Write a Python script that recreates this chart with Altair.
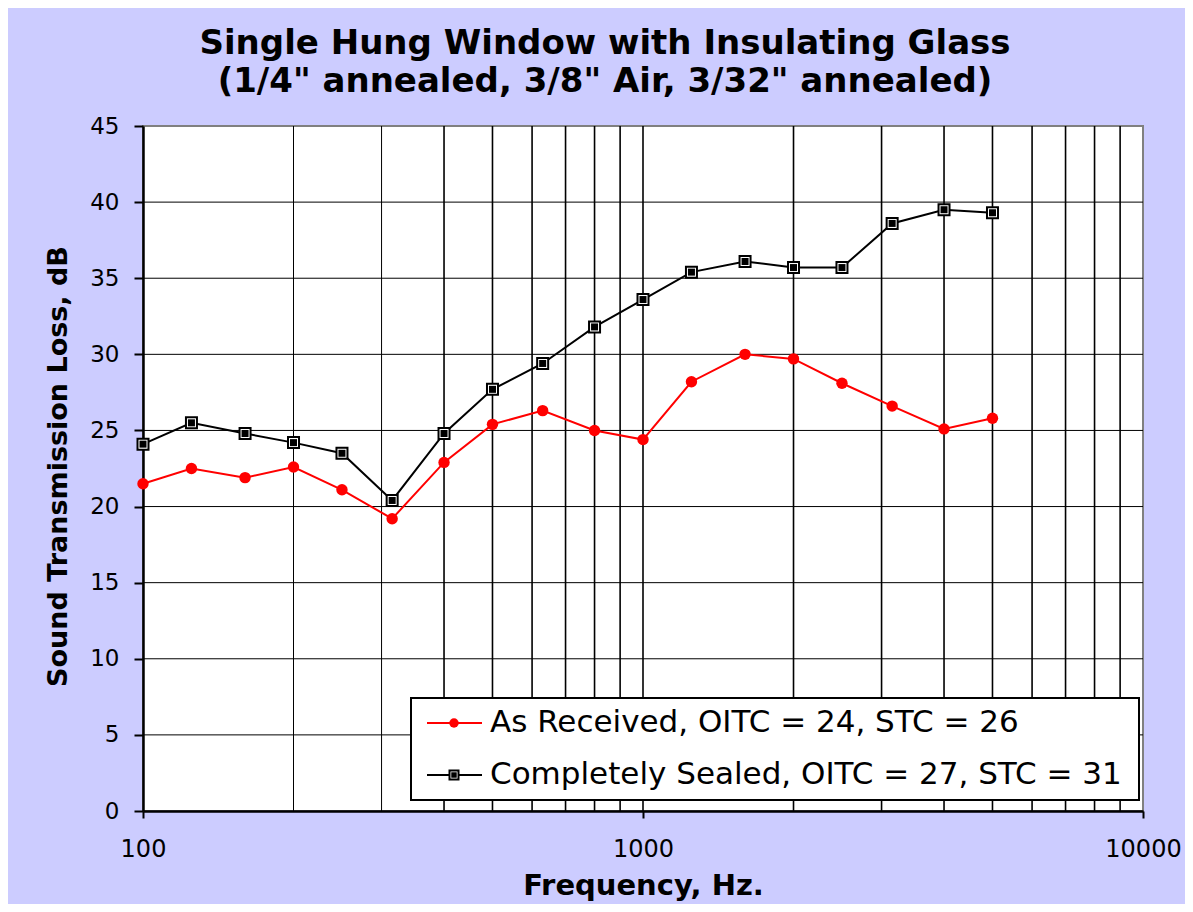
import altair as alt
import pandas as pd

# ---- data ----
FREQS = [100, 125, 160, 200, 250, 315, 400, 500, 630, 800, 1000, 1250, 1600, 2000, 2500, 3150, 4000, 5000]
AS_RECEIVED = [21.5, 22.5, 21.9, 22.6, 21.1, 19.2, 22.9, 25.4, 26.3, 25.0, 24.4, 28.2, 30.0, 29.7, 28.1, 26.6, 25.1, 25.8]
SEALED = [24.1, 25.5, 24.8, 24.2, 23.5, 20.4, 24.8, 27.7, 29.4, 31.8, 33.6, 35.4, 36.1, 35.7, 35.7, 38.6, 39.5, 39.3]
SERIES = ["As Received, OITC = 24, STC = 26", "Completely Sealed, OITC = 27, STC = 31"]
X_TICKS = [100, 1000, 10000]
Y_TICKS = [0, 5, 10, 15, 20, 25, 30, 35, 40, 45]
X_GRID = [200, 300, 400, 500, 600, 700, 800, 900, 1000, 2000, 3000, 4000, 5000, 6000, 7000, 8000, 9000]
Y_GRID = [5, 10, 15, 20, 25, 30, 35, 40]
TITLE = ["Single Hung Window with Insulating Glass", "(1/4\" annealed, 3/8\" Air, 3/32\" annealed)"]
X_TITLE = "Frequency, Hz."
Y_TITLE = "Sound Transmission Loss, dB"

FONT = "DejaVu Sans"

df_red = pd.DataFrame({"f": FREQS, "v": AS_RECEIVED})
df_blk = pd.DataFrame({"f": FREQS, "v": SEALED})
df_xg = pd.DataFrame({"f": X_GRID})
df_yg = pd.DataFrame({"v": Y_GRID})

xscale = alt.Scale(type="log", domain=[100, 10000], nice=False)
yscale = alt.Scale(domain=[0, 45], nice=False, zero=False)

xaxis = alt.Axis(values=X_TICKS, format="d", grid=False, title=X_TITLE,
                 tickSize=7, tickWidth=2, tickColor="black",
                 domainColor="black", domainWidth=2.5, labelFlush=False,
                 labelFont=FONT, labelFontSize=24, labelColor="black", labelPadding=19,
                 titleFont=FONT, titleFontSize=29, titleFontWeight="bold", titleColor="black",
                 titleY=74, titleBaseline="middle")
yaxis = alt.Axis(values=Y_TICKS, grid=False, title=Y_TITLE,
                 tickSize=9, tickWidth=2, tickColor="black",
                 domainColor="black", domainWidth=2.5, labelFlush=False,
                 labelFont=FONT, labelFontSize=23, labelColor="black", labelPadding=15,
                 titleFont=FONT, titleFontSize=27, titleFontWeight="bold", titleColor="black",
                 titleX=-85, titleY=340, titleAngle=270, titleAlign="center", titleBaseline="middle")

X = alt.X("f:Q", scale=xscale, axis=xaxis)
Y = alt.Y("v:Q", scale=yscale, axis=yaxis)

vgrid = alt.Chart(df_xg).mark_rule(color="black").encode(
    x=alt.X("f:Q", scale=xscale, axis=xaxis),
    strokeWidth=alt.condition("datum.f < 400", alt.value(1), alt.value(1.6)),
)
hgrid = alt.Chart(df_yg).mark_rule(color="black", strokeWidth=1).encode(
    y=alt.Y("v:Q", scale=yscale, axis=yaxis),
)

red_line = alt.Chart(df_red).mark_line(color="#FF0000", strokeWidth=2).encode(x=X, y=Y)
red_pts = alt.Chart(df_red).mark_point(shape="circle", filled=True, color="#FF0000", size=130, opacity=1).encode(x=X, y=Y)
blk_line = alt.Chart(df_blk).mark_line(color="black", strokeWidth=2).encode(x=X, y=Y)
blk_sq = alt.Chart(df_blk).mark_point(shape="square", filled=True, fill="white", stroke="black",
                                      strokeWidth=2, size=121, opacity=1).encode(x=X, y=Y)
blk_in = alt.Chart(df_blk).mark_point(shape="square", filled=True, color="black", size=49, opacity=1).encode(x=X, y=Y)

# ---- legend (drawn by hand, Excel style) ----
leg_box = alt.Chart(pd.DataFrame({"a": [0]})).mark_rect(fill="white", stroke="black", strokeWidth=2).encode(
    x=alt.value(268), x2=alt.value(996), y=alt.value(572), y2=alt.value(674))

leg_layers = []
rows_y = [597, 649]
for i, lab in enumerate(SERIES):
    col = "#FF0000" if i == 0 else "black"
    d = pd.DataFrame({"label": [lab]})
    base = alt.Chart(d)
    leg_layers.append(base.mark_rule(color=col, strokeWidth=2).encode(
        x=alt.value(284), x2=alt.value(339), y=alt.value(rows_y[i])))
    if i == 0:
        leg_layers.append(base.mark_point(shape="circle", filled=True, color=col, size=90, opacity=1).encode(
            x=alt.value(311), y=alt.value(rows_y[i])))
    else:
        leg_layers.append(base.mark_point(shape="square", filled=True, fill="white", stroke="black",
                                          strokeWidth=2, size=81, opacity=1).encode(
            x=alt.value(311), y=alt.value(rows_y[i])))
        leg_layers.append(base.mark_point(shape="square", filled=True, color="black", size=30, opacity=1).encode(
            x=alt.value(311), y=alt.value(rows_y[i])))
    leg_layers.append(base.mark_text(align="left", baseline="middle", font=FONT, fontSize=31, color="black").encode(
        x=alt.value(347), y=alt.value(rows_y[i]), text="label:N"))

chart = alt.layer(
    vgrid, hgrid, red_line, blk_line, red_pts, blk_sq, blk_in, leg_box, *leg_layers
).properties(
    width=1000, height=685,
    title=alt.TitleParams(text=TITLE, font=FONT, fontSize=34, fontWeight="bold", color="black",
                          anchor="middle", dx=-38, offset=16, lineHeight=38),
    background="#CCCCFF",
    padding={"left": 135, "top": 118, "right": 42, "bottom": 93},
    autosize=alt.AutoSizeParams(type="none"),
).configure_view(
    fill="white", stroke="#808080", strokeWidth=2
)

chart.save("out.html", embed_options={"renderer": "svg", "actions": False})
